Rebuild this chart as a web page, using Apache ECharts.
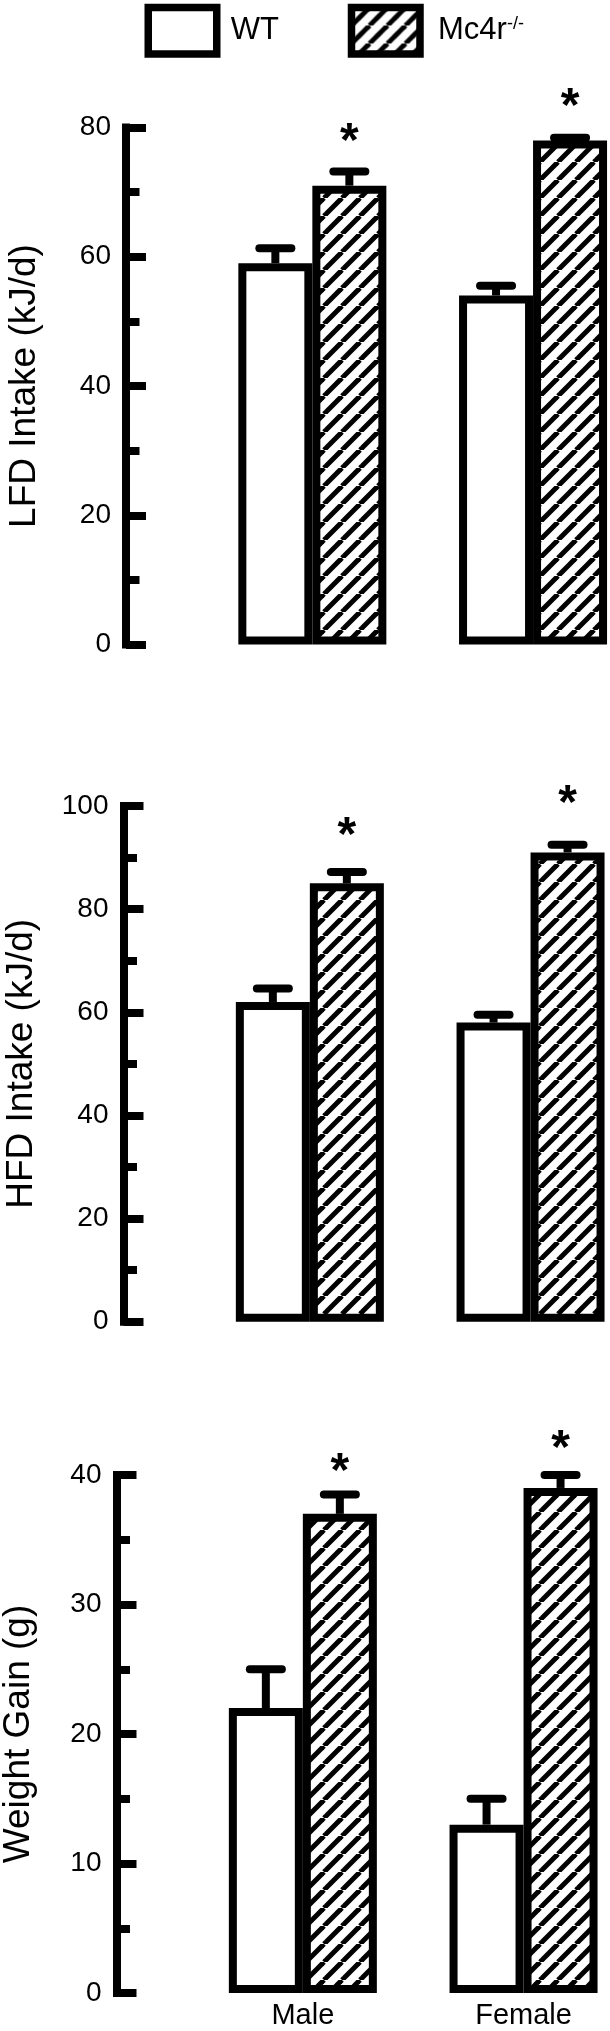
<!DOCTYPE html>
<html><head><meta charset="utf-8">
<script src="https://cdn.jsdelivr.net/npm/echarts@6/dist/echarts.min.js"></script>
<style>html,body{margin:0;padding:0;background:#fff}#c{width:610px;height:2031px}</style>
</head><body><div id="c"></div>
<script>
// ---- data ----
const categories = ['Male', 'Female'];
const groupNames = ['WT', 'Mc4r-/-'];

const lfdTitle = 'LFD Intake (kJ/d)';
const lfdTicks = [0, 20, 40, 60, 80];
const lfdWT = [59, 54];
const lfdWTErr = [2.3, 1.5];
const lfdKO = [71, 78];
const lfdKOErr = [2.2, 0.4];
const lfdStar = [79.3, 84.7];

const hfdTitle = 'HFD Intake (kJ/d)';
const hfdTicks = [0, 20, 40, 60, 80, 100];
const hfdWT = [62, 58];
const hfdWTErr = [2.6, 1.5];
const hfdKO = [85, 91];
const hfdKOErr = [2.2, 1.5];
const hfdStar = [96.2, 102.3];

const wgTitle = 'Weight Gain (g)';
const wgTicks = [0, 10, 20, 30, 40];
const wgWT = [22, 13];
const wgWTErr = [3, 2];
const wgKO = [37, 39];
const wgKOErr = [1.5, 1];
const wgStar = [41.0, 42.8];

// ---- styling / layout ----
const FONT = 'Liberation Sans, Arial, Helvetica, sans-serif';
const BAR_W = 74;
const BORDER = 8;
const CAP = 32;

function makeHatch(P, w) {
  const c = document.createElement('canvas');
  c.width = P; c.height = P;
  const ctx = c.getContext('2d');
  ctx.fillStyle = '#fff'; ctx.fillRect(0, 0, P, P);
  ctx.strokeStyle = '#000'; ctx.lineWidth = w;
  for (const k of [-P, 0, P]) {
    ctx.beginPath(); ctx.moveTo(k, P); ctx.lineTo(k + P, 0); ctx.stroke();
  }
  return c;
}
const hatch = { image: makeHatch(18, 5), repeat: 'repeat' };

const panels = [
  { title: lfdTitle, ticks: lfdTicks, wt: lfdWT, wtE: lfdWTErr, ko: lfdKO, koE: lfdKOErr, star: lfdStar,
    grid: { left: 202, top: 127.5, width: 441.4, height: 517 }, showX: false, nameGap: 83 },
  { title: hfdTitle, ticks: hfdTicks, wt: hfdWT, wtE: hfdWTErr, ko: hfdKO, koE: hfdKOErr, star: hfdStar,
    grid: { left: 199.5, top: 806, width: 441.4, height: 515.7 }, showX: false, nameGap: 83 },
  { title: wgTitle, ticks: wgTicks, wt: wgWT, wtE: wgWTErr, ko: wgKO, koE: wgKOErr, star: wgStar,
    grid: { left: 192.5, top: 1475, width: 441.4, height: 518 }, showX: true, nameGap: 79 }
];

function errRenderer(side) {
  return function (params, api) {
    const cat = api.value(0), val = api.value(1), err = api.value(2);
    const x = api.coord([cat, 0])[0] + side * BAR_W / 2;
    const yTop = api.coord([cat, val])[1];
    const yErr = api.coord([cat, val + err])[1];
    return { type: 'group', children: [
      { type: 'line', shape: { x1: x, y1: yTop, x2: x, y2: yErr }, style: { stroke: '#000', lineWidth: BORDER } },
      { type: 'line', shape: { x1: x - CAP / 2, y1: yErr, x2: x + CAP / 2, y2: yErr }, style: { stroke: '#000', lineWidth: BORDER, lineCap: 'round' } }
    ]};
  };
}
function starRenderer(params, api) {
  const cat = api.value(0), val = api.value(1);
  const x = api.coord([cat, 0])[0] + BAR_W / 2;
  const y = api.coord([cat, val])[1];
  return { type: 'text', x: x, y: y + 11, style: { text: '*', fontSize: 48, fontWeight: 'bold', fontFamily: FONT, fill: '#000', align: 'center', verticalAlign: 'middle' } };
}

const grid = [], xAxis = [], yAxis = [], series = [];
panels.forEach((p, i) => {
  grid.push(Object.assign({ outerBoundsMode: 'none', containLabel: false }, p.grid));
  xAxis.push({ type: 'category', gridIndex: i, data: categories,
    axisLine: { show: false }, axisTick: { show: false },
    axisLabel: { show: p.showX, color: '#000', fontSize: 29, fontFamily: FONT, margin: 8 } });
  const t = p.ticks;
  yAxis.push({ type: 'value', gridIndex: i, min: t[0], max: t[t.length - 1], interval: t[1] - t[0],
    offset: 76, name: p.title, nameLocation: 'middle', nameRotate: 90, nameGap: p.nameGap,
    nameTextStyle: { color: '#000', fontSize: 37, fontFamily: FONT },
    axisLine: { show: true, lineStyle: { color: '#000', width: BORDER, cap: 'square' } },
    axisTick: { show: true, inside: true, length: 20, lineStyle: { color: '#000', width: BORDER } },
    minorTick: { show: true, splitNumber: 2, length: 13.5, lineStyle: { color: '#000', width: BORDER } },
    splitLine: { show: false },
    axisLabel: { color: '#000', fontSize: 28, fontFamily: FONT, margin: 15 } });
  series.push({ name: groupNames[0], type: 'bar', xAxisIndex: i, yAxisIndex: i, data: p.wt,
    barWidth: BAR_W, barGap: '0%', itemStyle: { color: '#fff', borderColor: '#000', borderWidth: BORDER } });
  series.push({ name: groupNames[1], type: 'bar', xAxisIndex: i, yAxisIndex: i, data: p.ko,
    barWidth: BAR_W, barGap: '0%', itemStyle: { color: hatch, borderColor: '#000', borderWidth: BORDER } });
  series.push({ type: 'custom', xAxisIndex: i, yAxisIndex: i, z: 5, renderItem: errRenderer(-1),
    data: p.wt.map((v, k) => [k, v, p.wtE[k]]) });
  series.push({ type: 'custom', xAxisIndex: i, yAxisIndex: i, z: 5, renderItem: errRenderer(1),
    data: p.ko.map((v, k) => [k, v, p.koE[k]]) });
  series.push({ type: 'custom', xAxisIndex: i, yAxisIndex: i, z: 5, renderItem: starRenderer,
    data: p.star.map((v, k) => [k, v]) });
});

const legendBase = { orient: 'horizontal', top: 3.75, padding: 0, itemWidth: 68.5, itemHeight: 46.5,
  selectedMode: false, icon: 'rect', itemStyle: { borderColor: '#000', borderWidth: 7.5 } };
const legend = [
  Object.assign({}, legendBase, { left: 144.5, data: [groupNames[0]],
    textStyle: { color: '#000', fontSize: 31, fontFamily: FONT, padding: [0, 0, 0, 9] } }),
  Object.assign({}, legendBase, { left: 347.75, data: [groupNames[1]],
    formatter: () => 'Mc4r{sup|-/-}',
    textStyle: { color: '#000', fontSize: 31, fontFamily: FONT, padding: [0, 0, 0, 13],
      rich: { sup: { fontSize: 18, fontFamily: FONT, color: '#000', verticalAlign: 'top', padding: [0, 0, 14, 0] } } } })
];

const chart = echarts.init(document.getElementById('c'), null, { renderer: 'canvas' });
chart.setOption({ animation: false, backgroundColor: '#fff', grid, xAxis, yAxis, series, legend });
</script></body></html>
